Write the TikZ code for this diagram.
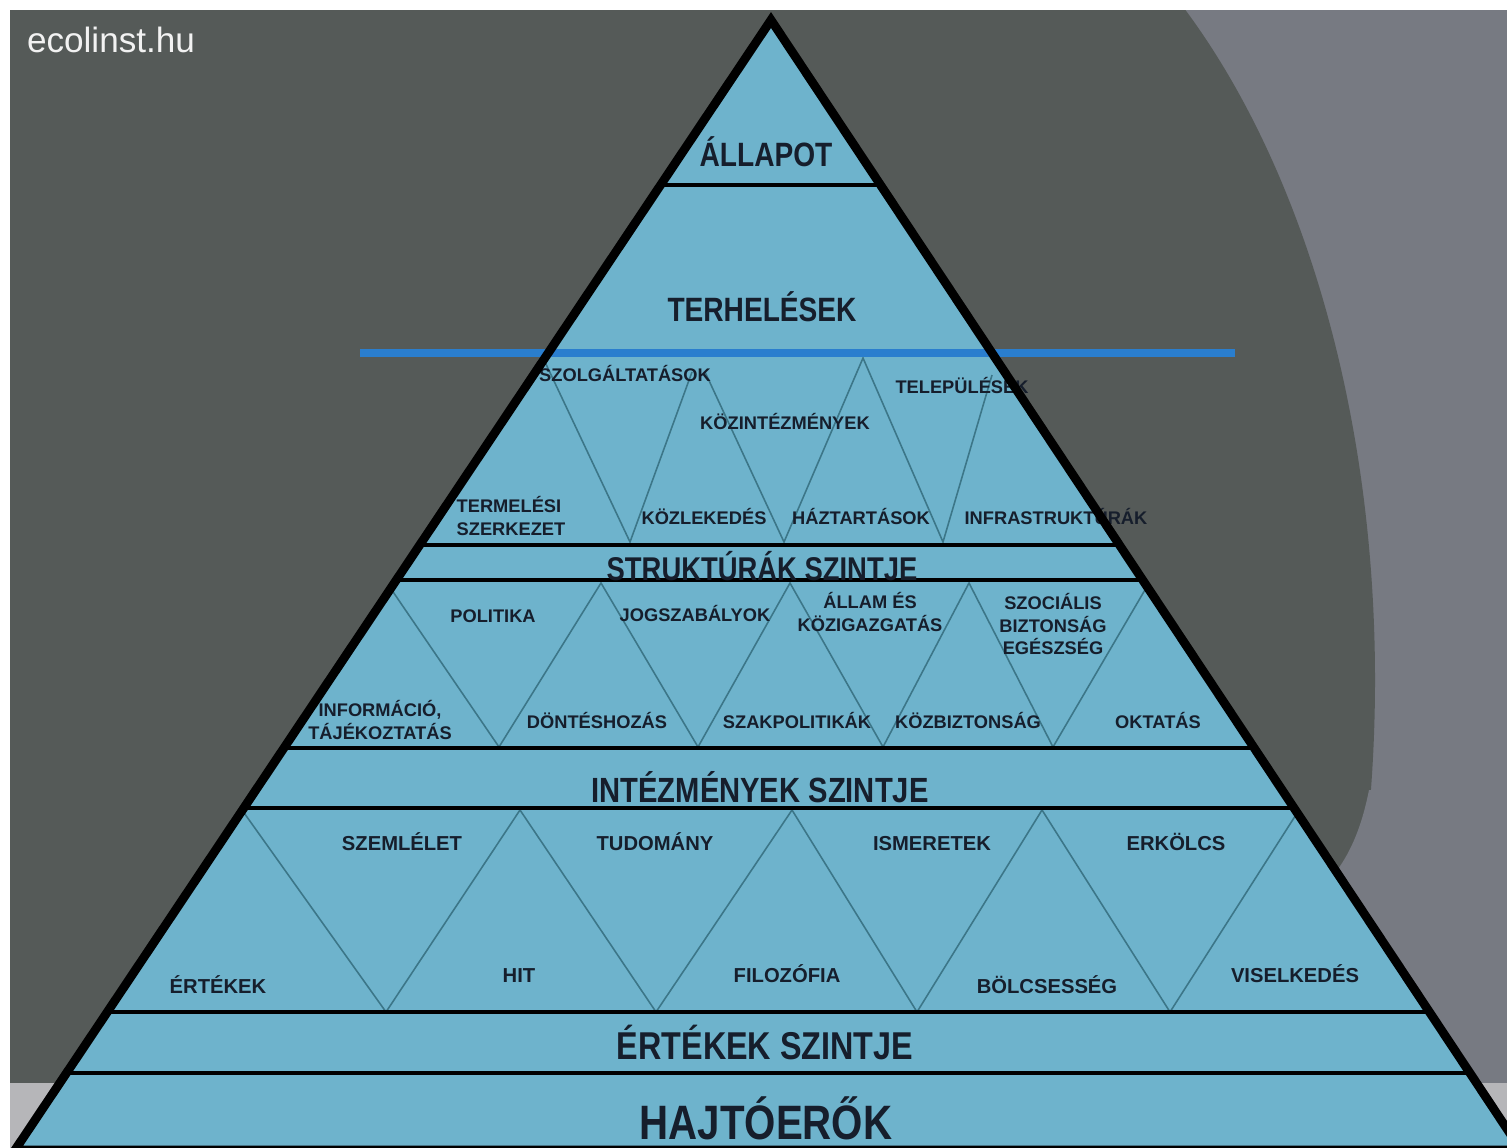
\documentclass[tikz,border=0pt]{standalone}
\usepackage{fontspec}
\setmainfont{Liberation Sans}
\usepackage{xcolor}
\usepackage{tikz}
\definecolor{bgdark}{RGB}{85,90,88}
\definecolor{bglight}{RGB}{119,122,130}
\definecolor{bgfloor}{RGB}{182,182,185}
\definecolor{pyrfill}{RGB}{110,179,204}
\definecolor{zig}{RGB}{60,118,136}
\definecolor{navy}{RGB}{22,30,44}
\definecolor{divider}{RGB}{42,126,206}
\def\level#1#2#3#4{\node [level,font=\bfseries\fontsize{#4}{#4}\selectfont] (#1) at (#2) {\scalebox{1}[1.2]{#3}}}
\tikzstyle{outline}=[line width=5pt,black,line join=miter]
\tikzstyle{lvl}=[line width=2.8pt,black]
\tikzstyle{zigzag}=[line width=0.9pt,zig]
\tikzstyle{level}=[text=navy,inner sep=0pt]
\tikzstyle{item}=[text=navy,inner sep=0pt,align=center,execute at begin node={\vphantom{É}},font=\bfseries\fontsize{10.4}{12.8}\selectfont]
\tikzstyle{itembig}=[item,font=\bfseries\fontsize{11.5}{13}\selectfont]
\tikzstyle{logo}=[text=white!90!gray,inner sep=0pt,font=\fontsize{20}{22}\selectfont]

\begin{document}
\begin{tikzpicture}[x=0.02cm,y=-0.02cm]
  \useasboundingbox (0,0) rectangle (1507,1148);
  \clip (0,0) rectangle (1507,1148);
  % background
  \fill[bglight] (0,0) rectangle (1507,1083);
  \fill[bgdark] (0,0) rectangle (882,1083);
  \fill[bgdark] (882,680) ellipse [x radius=493,y radius=850];
  \fill[bglight] (1336,872) .. controls (1352,850) and (1362,825) .. (1369,790)
    -- (1507,790) -- (1507,1083) -- (1478,1083) -- cycle;
  \fill[bgfloor] (0,1083) rectangle (1507,1148);
  \fill[white] (0,0) rectangle (1507,10);
  \fill[white] (0,0) rectangle (10,1148);
  \node[logo] (logo) at (111,40) {ecolinst.hu};

  % pyramid
  \coordinate (apex) at (771,20);
  \coordinate (bl) at (15,1150);
  \coordinate (br) at (1521,1150);
  \fill[pyrfill] (apex) -- (bl) -- (br) -- cycle;
  \begin{scope}
    \clip (apex) -- (bl) -- (br) -- cycle;
    \draw[zigzag] (545,362) -- (630,542) -- (692,372);
    \draw[zigzag] (705,372) -- (784,542) -- (863,358) -- (943,542) -- (992,375);
    \draw[zigzag] (387,583) -- (499,747) -- (601,583) -- (698,747) -- (790,583)
      -- (883,747) -- (969,583) -- (1053,747) -- (1149,583);
    \draw[zigzag] (242,810) -- (386,1012) -- (520,810) -- (656,1012) -- (792,810)
      -- (917,1012) -- (1042,810) -- (1170,1012) -- (1299,810);
    \foreach \y in {185,545,580,748,808,1012,1073}
      \draw[lvl] (0,\y) -- (1507,\y);
  \end{scope}
  \draw[divider,line width=5pt] (360,353) -- (1235,353);

  % levels
  \level{allapot}{766,152}{ÁLLAPOT}{16};
  \level{terheles}{762,307}{TERHELÉSEK}{16};
  \level{strukt}{762,566}{STRUKTÚRÁK SZINTJE}{15.6};
  \level{intezm}{760,787}{INTÉZMÉNYEK SZINTJE}{16.6};
  \level{ertekszint}{765,1042}{ÉRTÉKEK SZINTJE}{18.4};
  \level{hajto}{766,1118}{HAJTÓERŐK}{22.9};

  % structures
  \node[item] (szolg) at (625,373) {SZOLGÁLTATÁSOK};
  \node[item] (kozint) at (785,421) {KÖZINTÉZMÉNYEK};
  \node[item] (telep) at (962,385) {TELEPÜLÉSEK};
  \node[item,align=left] (termel) at (511,516) {TERMELÉSI\\SZERKEZET};
  \node[item] (kozlek) at (704,516) {KÖZLEKEDÉS};
  \node[item] (haztart) at (861,516) {HÁZTARTÁSOK};
  \node[item] (infra) at (1056,516) {INFRASTRUKTÚRÁK};

  % institutions
  \node[item] (polit) at (493,614) {POLITIKA};
  \node[item] (jog) at (695,613) {JOGSZABÁLYOK};
  \node[item] (allam) at (870,612) {ÁLLAM ÉS\\KÖZIGAZGATÁS};
  \node[item] (szoc) at (1053,624) {SZOCIÁLIS\\BIZTONSÁG\\EGÉSZSÉG};
  \node[item] (info) at (380,720) {INFORMÁCIÓ,\\TÁJÉKOZTATÁS};
  \node[item] (dontes) at (597,720) {DÖNTÉSHOZÁS};
  \node[item] (szakpol) at (797,720) {SZAKPOLITIKÁK};
  \node[item] (kozbizt) at (968,720) {KÖZBIZTONSÁG};
  \node[item] (oktat) at (1158,720) {OKTATÁS};

  % values
  \node[itembig] (szeml) at (402,842) {SZEMLÉLET};
  \node[itembig] (tudom) at (655,842) {TUDOMÁNY};
  \node[itembig] (ismer) at (932,842) {ISMERETEK};
  \node[itembig] (erkolcs) at (1176,842) {ERKÖLCS};
  \node[itembig] (ertek) at (218,985) {ÉRTÉKEK};
  \node[itembig] (hit) at (519,974) {HIT};
  \node[itembig] (filoz) at (787,974) {FILOZÓFIA};
  \node[itembig] (bolcs) at (1047,985) {BÖLCSESSÉG};
  \node[itembig] (visel) at (1295,974) {VISELKEDÉS};

  \draw[outline] (apex) -- (bl) -- (br) -- cycle;
\end{tikzpicture}
\end{document}
